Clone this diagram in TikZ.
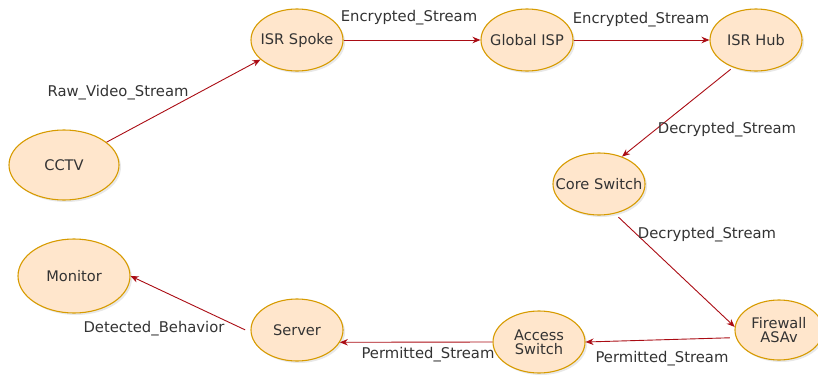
\documentclass[tikz,border=0pt]{standalone}
\usepackage{fontspec}
\setmainfont{DejaVu Sans}
\usetikzlibrary{arrows.meta,shapes.geometric,shadows}
\definecolor{nodefill}{HTML}{FFE6CC}
\definecolor{nodeline}{HTML}{D79B00}
\definecolor{flowred}{RGB}{170,12,20}
\definecolor{txt}{HTML}{333333}
\tikzset{
  proc/.style={ellipse, draw=nodeline, fill=nodefill, line width=1.1pt,
    minimum width=92pt, minimum height=62pt, inner xsep=-12pt, inner ysep=0pt, align=center,
    font=\fontsize{14.6}{16}\selectfont, text=txt,
    drop shadow={opacity=0.18, shadow xshift=2pt, shadow yshift=-2pt}},
  flow/.style={draw=flowred, line width=0.9pt, -{Stealth[length=8pt,width=6.5pt]}},
  lbl/.style={font=\fontsize{14.8}{16}\selectfont, text=txt, inner sep=0pt}
}
\begin{document}
\begin{tikzpicture}[x=1pt,y=-1pt]
\useasboundingbox (0,0) rectangle (818,375);
\node[proc, minimum width=110pt, minimum height=70pt] (cctv) at (64,165) {CCTV};
\node[proc] (spoke) at (297,40) {ISR Spoke};
\node[proc] (isp) at (527,40) {Global ISP};
\node[proc] (hub) at (756,40) {ISR Hub};
\node[proc] (core) at (599,184) {Core Switch};
\node[proc, minimum width=88pt, minimum height=60pt] (fw) at (779,330) {Firewall\\[-2pt]ASAv};
\node[proc] (access) at (539,342) {Access\\[-2pt]Switch};
\node[proc] (server) at (297,330) {Server};
\node[proc, minimum width=112pt, minimum height=74pt] (monitor) at (74,276) {Monitor};

\draw[flow] (cctv) -- (spoke);
\draw[flow] (spoke) -- (isp);
\draw[flow] (isp) -- (hub);
\draw[flow, shorten <=3pt] (hub.230) -- (core.50);
\draw[flow, shorten <=5pt] (core.-62) -- (fw.176);
\draw[flow, shorten <=6pt] (fw.190) -- (access.east);
\draw[flow] (access.west) -- (server.-16);
\draw[flow, shorten <=6pt] (server.183) -- (monitor.0);

\node[lbl] (l1) at (118,93) {Raw\_Video\_Stream};
\node[lbl] (l2) at (409,18) {Encrypted\_Stream};
\node[lbl] (l3) at (641,20) {Encrypted\_Stream};
\node[lbl] (l4) at (727,130) {Decrypted\_Stream};
\node[lbl] (l5) at (707,235) {Decrypted\_Stream};
\node[lbl] (l6) at (662,359) {Permitted\_Stream};
\node[lbl] (l7) at (428,355) {Permitted\_Stream};
\node[lbl] (l8) at (154,329) {Detected\_Behavior};
\end{tikzpicture}
\end{document}
